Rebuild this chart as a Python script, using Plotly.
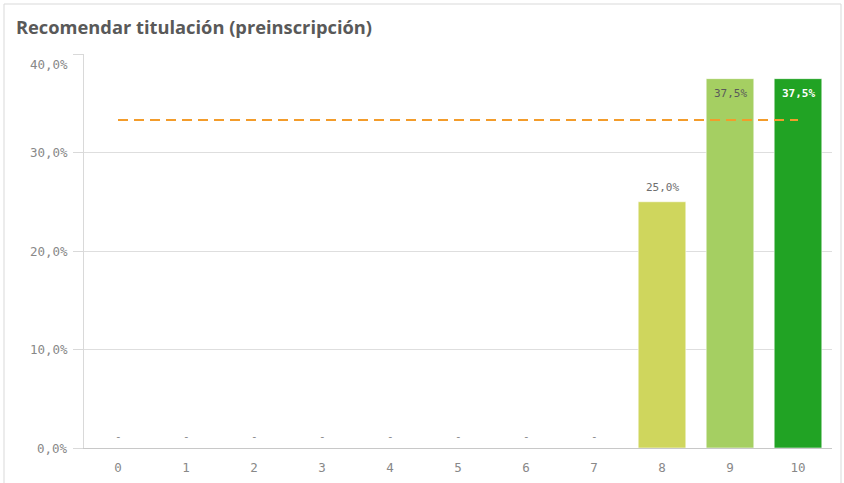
import plotly.graph_objects as go

# Score distribution (0-10) for "Recomendar titulación"
categories = ["0", "1", "2", "3", "4", "5", "6", "7", "8", "9", "10"]
shares = [0, 0, 0, 0, 0, 0, 0, 0, 25.0, 37.5, 37.5]
bar_colors = ["#cfd65d"] * 9 + ["#a5cf62", "#21a324"]
reference_value = 33.3
y_ticks = [0, 10, 20, 30, 40]
y_tick_labels = ["0,0%", "10,0%", "20,0%", "30,0%", "40,0%"]

MONO = "DejaVu Sans Mono"
AXIS_GRAY = "#888888"


def fmt(v):
    return f"{v:.1f}%".replace(".", ",")


fig = go.Figure()

# Bars
fig.add_trace(go.Bar(
    x=categories,
    y=shares,
    marker=dict(color=bar_colors, line=dict(color="rgba(255,255,255,0.55)", width=1)),
    width=0.7,
    hoverinfo="skip",
))

# Dash label for empty categories, value labels above/inside the others
for cat, v in zip(categories, shares):
    if v == 0:
        fig.add_annotation(x=cat, y=0, text="-", showarrow=False, yshift=12,
                           font=dict(family=MONO, size=11, color=AXIS_GRAY))
    elif v < 30:
        fig.add_annotation(x=cat, y=v, text=fmt(v), showarrow=False, yanchor="bottom",
                           yshift=6, font=dict(family=MONO, size=11, color="#6e6e6e"))

inside_text = {"9": ("#5a5a5a", False), "10": ("#ffffff", True)}
for cat, v in zip(categories, shares):
    if v >= 30:
        color, bold = inside_text.get(cat, ("#ffffff", False))
        label = f"<b>{fmt(v)}</b>" if bold else fmt(v)
        fig.add_annotation(x=cat, y=v, text=label, showarrow=False, yanchor="top",
                           yshift=-6, font=dict(family=MONO, size=11, color=color))

# Reference line
fig.add_trace(go.Scatter(
    x=[categories[0], categories[-1]],
    y=[reference_value, reference_value],
    mode="lines",
    line=dict(color="#f39c2b", width=2, dash="10px,6px"),
    hoverinfo="skip",
))

# Y tick labels (top one nudged down to stay inside the card)
for t, lab in zip(y_ticks, y_tick_labels):
    fig.add_annotation(x=0, xref="paper", xanchor="right", xshift=-14,
                       y=t, text=lab, showarrow=False,
                       yshift=-10 if t == y_ticks[-1] else 0,
                       font=dict(family=MONO, size=12.5, color=AXIS_GRAY))

fig.update_layout(
    width=844, height=483,
    margin=dict(l=84, r=12, t=54, b=35, autoexpand=False),
    paper_bgcolor="white",
    plot_bgcolor="white",
    showlegend=False,
    bargap=0.3,
    title=dict(text="<b>Recomendar titulación (preinscripción)</b>",
               x=16 / 844, xanchor="left", y=1 - 28 / 483, yanchor="middle",
               font=dict(family="Open Sans", size=18.3, color="#595959")),
    shapes=[dict(type="rect", xref="paper", yref="paper",
                 x0=-80 / 748, x1=1 + 9 / 748, y0=-40 / 394, y1=1 + 50 / 394,
                 line=dict(color="#d9d9d9", width=1), fillcolor="rgba(0,0,0,0)",
                 layer="below")],
)

fig.update_xaxes(
    type="category",
    automargin=False,
    showgrid=False,
    showline=True, linecolor="#c8c8c8", linewidth=1,
    ticks="", tickfont=dict(family=MONO, size=12.5, color=AXIS_GRAY),
    ticklabelstandoff=8,
)
fig.update_yaxes(
    range=[0, 40],
    automargin=False,
    tickvals=y_ticks,
    showticklabels=False,
    showgrid=True, gridcolor="#dedede", gridwidth=1,
    showline=True, linecolor="#d9d9d9", linewidth=1,
    ticks="outside", ticklen=10, tickcolor="#d9d9d9",
    zeroline=False,
)

fig.write_html("out.html")
